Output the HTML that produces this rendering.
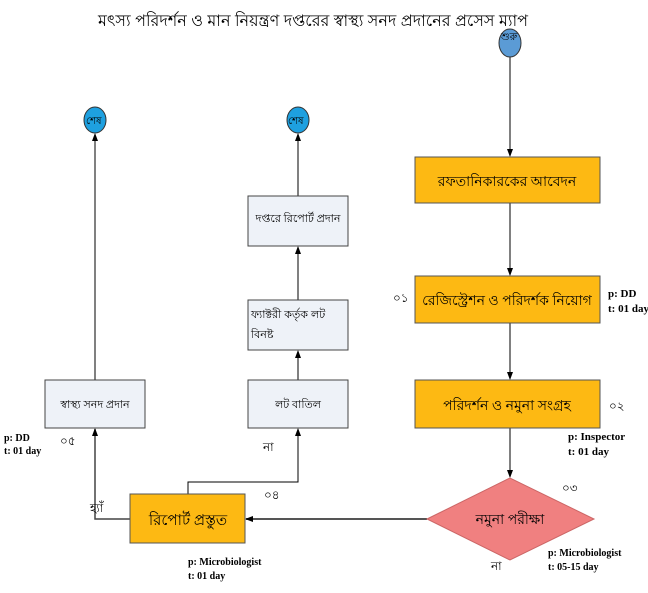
<!DOCTYPE html>
<html><head><meta charset="utf-8"><style>
body{margin:0;background:#fff;width:648px;height:588px;overflow:hidden}
text{font-family:"Liberation Serif","Noto Serif CJK SC",serif}
.b{font-family:"Liberation Sans","Noto Sans CJK SC",sans-serif}
</style></head><body>
<svg width="648" height="588" xmlns="http://www.w3.org/2000/svg">
<defs><marker id="a" markerWidth="8" markerHeight="8" refX="7" refY="4" orient="auto" markerUnits="userSpaceOnUse"><path d="M0,1 L8,4 L0,7z" fill="#000"/></marker></defs>
<text x="98" y="26" font-size="16" class="b" fill="#000">মৎস্য পরিদর্শন ও মান নিয়ন্ত্রণ দপ্তরের স্বাস্থ্য সনদ প্রদানের প্রসেস ম্যাপ</text>
<g stroke="#000" stroke-width="1" fill="none">
<line x1="510" y1="57" x2="510" y2="156" marker-end="url(#a)"/>
<line x1="510" y1="203" x2="510" y2="275" marker-end="url(#a)"/>
<line x1="510" y1="323" x2="510" y2="379" marker-end="url(#a)"/>
<line x1="510" y1="428" x2="510" y2="477" marker-end="url(#a)"/>
<line x1="427" y1="519" x2="246" y2="519" stroke="#555" stroke-width="2" marker-end="url(#a)"/>
<polyline points="130,519 95,519 95,429" marker-end="url(#a)" stroke="#444" stroke-width="1.5"/>
<polyline points="188,494 188,482 298,482 298,429" marker-end="url(#a)"/>
<line x1="298" y1="380" x2="298" y2="351" marker-end="url(#a)"/>
<line x1="298" y1="300" x2="298" y2="247" marker-end="url(#a)"/>
<line x1="298" y1="196" x2="298" y2="134" marker-end="url(#a)"/>
<line x1="95" y1="380" x2="95" y2="134" marker-end="url(#a)"/>
</g>
<ellipse cx="510" cy="43" rx="11" ry="14" fill="#5b9bd5" stroke="#333"/>
<text x="501" y="40" font-size="10" class="b">শুরু</text>
<ellipse cx="95" cy="120" rx="11" ry="13" fill="#1ea0e0" stroke="#333"/>
<text x="86" y="124" font-size="10" class="b">শেষ</text>
<ellipse cx="298" cy="120" rx="11" ry="13" fill="#1ea0e0" stroke="#333"/>
<text x="288" y="124" font-size="10" class="b">শেষ</text>
<g fill="#fdb913" stroke="#555">
<rect x="415" y="157" width="185" height="46"/>
<rect x="415" y="276" width="185" height="47"/>
<rect x="415" y="380" width="185" height="48"/>
<rect x="130" y="494" width="115" height="49"/>
</g>
<polygon points="427,519 510,478 594,519 510,560" fill="#f08080" stroke="#c66"/>
<g fill="#eef2f8" stroke="#444">
<rect x="45" y="380" width="100" height="48"/>
<rect x="248" y="380" width="100" height="48"/>
<rect x="248" y="300" width="100" height="50"/>
<rect x="248" y="196" width="100" height="50"/>
</g>
<g class="b" font-size="14" text-anchor="middle">
<text x="507" y="186">রফতানিকারকের আবেদন</text>
<text x="507" y="305">রেজিস্ট্রেশন ও পরিদর্শক নিয়োগ</text>
<text x="507" y="410">পরিদর্শন ও নমুনা সংগ্রহ</text>
<text x="510" y="524">নমুনা পরীক্ষা</text>
<text x="188" y="525" font-size="15">রিপোর্ট  প্রস্তুত</text>
</g>
<g class="b" font-size="11" text-anchor="middle">
<text x="95" y="408">স্বাস্থ্য সনদ প্রদান</text>
<text x="298" y="408">লট বাতিল</text>
<text x="298" y="222">দপ্তরে রিপোর্ট প্রদান</text>
</g>
<text x="251" y="318" font-size="11" class="b">ফ্যাক্টরী  কর্তৃক  লট</text>
<text x="251" y="338" font-size="11" class="b">বিনষ্ট</text>
<g font-size="11" font-weight="bold">
<text x="608" y="297">p: DD</text><text x="608" y="312">t: 01 day</text>
<text x="568" y="440">p: Inspector</text><text x="568" y="455">t: 01 day</text>
<text x="548" y="556" font-size="10">p: Microbiologist</text><text x="548" y="570" font-size="10">t: 05-15 day</text>
<text x="188" y="565" font-size="10">p: Microbiologist</text><text x="188" y="579" font-size="10">t: 01 day</text>
<text x="4" y="441" font-size="10">p: DD</text><text x="4" y="454" font-size="10">t: 01 day</text>
</g>
<g class="b" font-size="12">
<text x="393" y="302">০১</text><text x="609" y="410">০২</text>
<text x="562" y="492">০৩</text><text x="264" y="499">০৪</text>
<text x="60" y="445">০৫</text>
<text x="263" y="451">না</text><text x="491" y="570">না</text>
<text x="90" y="512">হ্যাঁ</text>
</g>
</svg>
</body></html>
